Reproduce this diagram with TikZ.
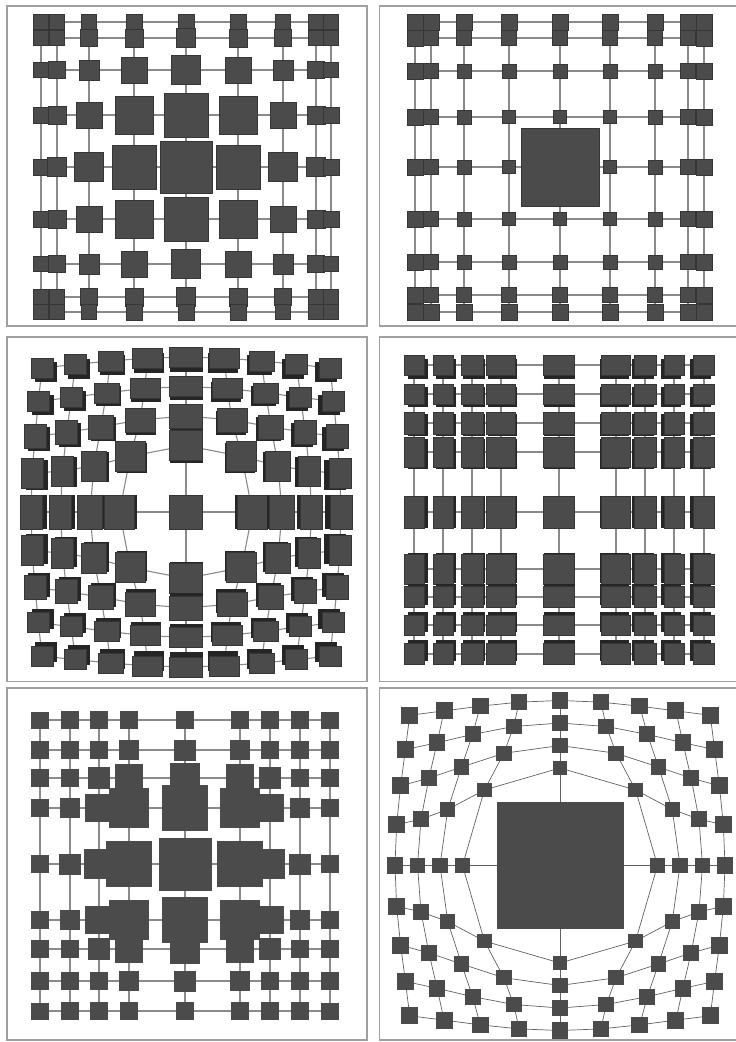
\documentclass[tikz,border=0pt]{standalone}
\usetikzlibrary{backgrounds}

\begin{document}
\begin{tikzpicture}[x=1pt, y=-1pt]

% ---------------------------------------------------------------- colours
\definecolor{boxgray}{HTML}{4B4B4B}    % the boxes
\definecolor{boxedge}{HTML}{363636}
\definecolor{sidegray}{HTML}{252525}   % the side faces of the 3d boxes
\definecolor{linkgray}{HTML}{8A8A8A}   % the grid links
\definecolor{framegray}{HTML}{A0A0A0}

% ---------------------------------------------------------------- styles
\tikzset{
    box/.style={rectangle, fill=boxgray, draw=boxedge, line width=0.5pt,
                inner sep=0pt},
    flatbox/.style={rectangle, fill=boxgray, inner sep=0pt},
    side/.style={rectangle, fill=sidegray, inner sep=0pt},
    link/.style={linkgray, line width=1.1pt},
    thinlink/.style={linkgray!70!black, line width=0.7pt},
    frame/.style={framegray, line width=1.4pt},
}

\useasboundingbox (0,0) rectangle (736,1042);

% ================================================================
% Six views of the same 9 x 9 grid. Each view is drawn round its own
% focus (the middle node), 1 unit = 1 pixel of the page, y downwards.
% Nodes are named <view>-<column>-<row>.
% ================================================================

\draw[frame] (7,6) rectangle (367,326);
\draw[frame] (379.5,6) rectangle (745,326);
\draw[frame] (7,337) rectangle (367,681.5);
\draw[frame] (379.5,337) rectangle (745,681.5);
\draw[frame] (7,688) rectangle (367,1040);
\draw[frame] (379.5,688) rectangle (745,1040);

% ----------------------------------------------------------------------
% VIEW A: fisheye on positions and on sizes
% ----------------------------------------------------------------------
\begin{scope}[shift={(186,167)}]
    \foreach \c/\x in {1/-145,2/-129,3/-97,4/-52,5/0,6/52,7/97,8/130,9/145} {
        \foreach \r/\y in {1/-145,2/-129,3/-97,4/-52,5/0,6/52,7/97,8/130,9/145} {
            % size falls off with the distance to the focus
            \pgfmathsetmacro\s{15+37*exp(-((\c-5)^2+(\r-5)^2)/4.1)}
            \node[box, minimum size=\s] (a-\c-\r) at (\x,\y) {};
        }
    }
\end{scope}

% ----------------------------------------------------------------------
% VIEW B: same positions, only the focus is blown up
% ----------------------------------------------------------------------
\begin{scope}[shift={(560,167)}]
    \foreach \c/\x in {1/-145,2/-129,3/-96,4/-51,5/0,6/50,7/95,8/128,9/144} {
        \foreach \r/\y in {1/-145,2/-129,3/-96,4/-50,5/0,6/52,7/95,8/128,9/145} {
            \pgfmathsetmacro\s{(\c==5 && \r==5) ? 78 : 12.5+0.9*max(abs(\c-5),abs(\r-5))}
            \node[box, minimum size=\s] (b-\c-\r) at (\x,\y) {};
        }
    }
\end{scope}

% ----------------------------------------------------------------------
% VIEW C: polar push away from the focus, boxes seen in perspective
% ----------------------------------------------------------------------
\begin{scope}[shift={(186,512)}]
    \foreach \c/\w in {1/22,2/22,3/25,4/30,5/33,6/30,7/25,8/22,9/22} {
        \foreach \r/\h in {1/20,2/20,3/24,4/30,5/34,6/30,7/24,8/20,9/20} {
            % r' = 37 + 0.761 r, along the same direction
            \pgfmathsetmacro\gx{38.75*(\c-5)}
            \pgfmathsetmacro\gy{38.75*(\r-5)}
            \pgfmathsetmacro\k{(37+0.761*veclen(\gx,\gy))/max(veclen(\gx,\gy),1)}
            \node[side, minimum width=\w, minimum height=\h] (c-\c-\r-s)
                at ({0.97*\k*\gx},{0.97*\k*\gy}) {};
            \node[box, minimum width=\w, minimum height=\h] (c-\c-\r)
                at ({\k*\gx},{\k*\gy}) {};
        }
    }
\end{scope}

% ----------------------------------------------------------------------
% VIEW D: orthogonal stretch, the middle row and column get room
% ----------------------------------------------------------------------
\begin{scope}[shift={(559,512)}]
    \foreach \c/\x/\w in {1/-145/20,2/-116/20,3/-87/22,4/-58/29,5/0/31,
                          6/57/29,7/86/22,8/115/20,9/145/21} {
        \foreach \r/\y/\h in {1/-147/20,2/-118/20,3/-89/22,4/-60/30,5/0/32,
                              6/57/30,7/85/21,8/113/20,9/142/21} {
            \node[side, minimum width=\w, minimum height=\h] (d-\c-\r-s)
                at ({0.975*\x},{0.975*\y}) {};
            \node[box, minimum width=\w, minimum height=\h] (d-\c-\r)
                at (\x,\y) {};
        }
    }
\end{scope}

% ----------------------------------------------------------------------
% VIEW E: orthogonal stretch, sizes grow into one another near the focus
% ----------------------------------------------------------------------
\begin{scope}[shift={(185,864)}]
    \foreach \c/\x in {1/-145,2/-115,3/-86,4/-56,5/0,6/55,7/85,8/115,9/145} {
        \foreach \r/\y in {1/-144,2/-114,3/-86,4/-56,5/0,6/56,7/85,8/117,9/147} {
            \pgfmathsetmacro\s{17+36*exp(-((\c-5)^2+(\r-5)^2)/4.1)}
            \node[flatbox, minimum size=\s] (e-\c-\r) at (\x,\y) {};
        }
    }
\end{scope}

% ----------------------------------------------------------------------
% VIEW F: polar, one very large focus and small nodes round it
% ----------------------------------------------------------------------
\begin{scope}[shift={(560,865.5)}]
    \foreach \c in {1,...,9} {
        \foreach \r in {1,...,9} {
            % r' = 75 + 22.5 r, pulled a little further out in the corners
            \pgfmathsetmacro\rn{veclen(\c-5,\r-5)}
            \pgfmathsetmacro\k{(75+22.5*\rn+0.04*((\c-5)*(\r-5))^2)/max(\rn,0.01)}
            \pgfmathsetmacro\s{(\c==5 && \r==5) ? 127 : 14+0.6*\rn}
            \node[flatbox, minimum size=\s] (f-\c-\r)
                at ({\k*(\c-5)},{\k*(\r-5)}) {};
        }
    }
\end{scope}

% ----------------------------------------------------------------------
% grid links, behind the boxes
% ----------------------------------------------------------------------
\begin{pgfonlayer}{background}
    \foreach \v in {a,b,c,d,e} {
        \foreach \i in {1,...,9} {
            \foreach \j in {1,...,8} {
                \pgfmathtruncatemacro\jj{\j+1}
                \draw[link] (\v-\i-\j.center) -- (\v-\i-\jj.center);
                \draw[link] (\v-\j-\i.center) -- (\v-\jj-\i.center);
            }
        }
    }
    \foreach \i in {1,...,9} {
        \foreach \j in {1,...,8} {
            \pgfmathtruncatemacro\jj{\j+1}
            \draw[thinlink] (f-\i-\j.center) -- (f-\i-\jj.center);
            \draw[thinlink] (f-\j-\i.center) -- (f-\jj-\i.center);
        }
    }
\end{pgfonlayer}

\end{tikzpicture}
\end{document}
